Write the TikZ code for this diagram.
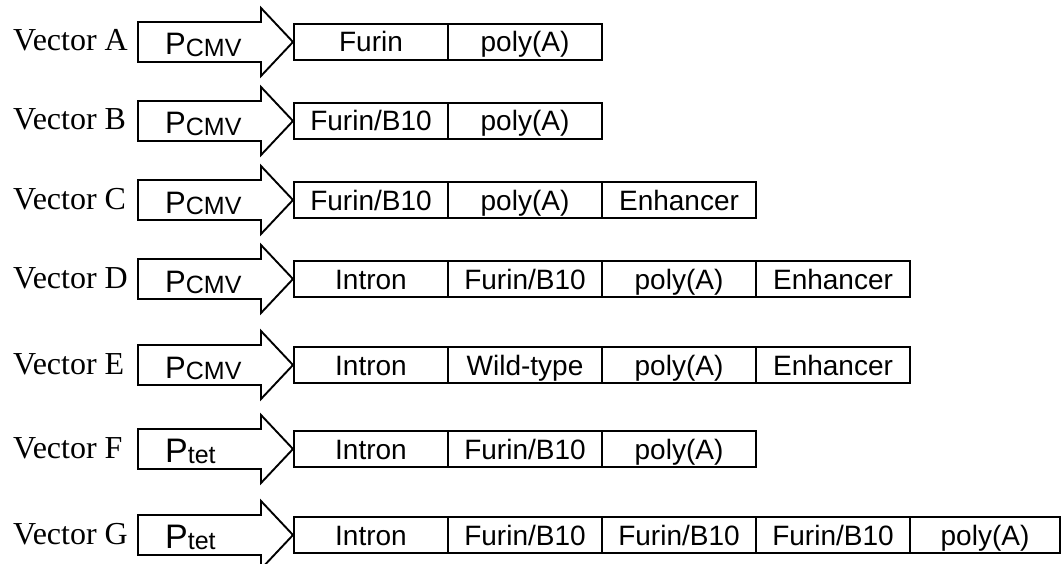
\documentclass[tikz,border=0pt]{standalone}
\usepackage{fontspec}
\setmainfont{Liberation Serif}
\setsansfont{Liberation Sans}
\newcommand\pcmv{{\fontsize{31}{31}\selectfont P}{\fontsize{25}{25}\selectfont\raisebox{-1.5pt}{CMV}}}
\newcommand\ptet{{\fontsize{34}{34}\selectfont P}{\fontsize{25}{25}\selectfont\raisebox{-1.5pt}{tet}}}
\newcommand\vrow[4]{%
  \node[lbl] (lbl#1) at (13,{#2+9}) {#3};
  \draw[prom] (138,{#2-20}) -- (261,{#2-20}) -- (261,{#2-34}) -- (293,#2) -- (261,{#2+34}) -- (261,{#2+20}) -- (138,{#2+20}) -- cycle;
  \node[ptext] (p#1) at (165,{#2+13}) {#4};
  \coordinate (s#1) at (294,#2);
}
\begin{document}
\begin{tikzpicture}[x=1pt,y=-1pt,
  lbl/.style={anchor=base west, inner sep=0, font=\fontsize{32}{32}\selectfont},
  prom/.style={draw, line width=1.9pt, line join=miter, miter limit=10},
  ptext/.style={anchor=base west, inner sep=0, font=\sffamily},
  cell/.style={draw, line width=1.9pt, anchor=west, minimum width=154pt, minimum height=36pt,
    inner sep=0, outer sep=0, text height=22pt, text depth=2pt, font=\sffamily\fontsize{28}{28}\selectfont}
]
\useasboundingbox (0,0) rectangle (1064,564);
% Vector A
\vrow{A}{42}{Vector A}{\pcmv}
\node[cell] (A1) at (sA) {Furin};
\node[cell] (A2) at (A1.east) {poly(A)};
% Vector B
\vrow{B}{121}{Vector B}{\pcmv}
\node[cell] (B1) at (sB) {Furin/B10};
\node[cell] (B2) at (B1.east) {poly(A)};
% Vector C
\vrow{C}{200}{Vector C}{\pcmv}
\node[cell] (C1) at (sC) {Furin/B10};
\node[cell] (C2) at (C1.east) {poly(A)};
\node[cell] (C3) at (C2.east) {Enhancer};
% Vector D
\vrow{D}{279}{Vector D}{\pcmv}
\node[cell] (D1) at (sD) {Intron};
\node[cell] (D2) at (D1.east) {Furin/B10};
\node[cell] (D3) at (D2.east) {poly(A)};
\node[cell] (D4) at (D3.east) {Enhancer};
% Vector E
\vrow{E}{365}{Vector E}{\pcmv}
\node[cell] (E1) at (sE) {Intron};
\node[cell] (E2) at (E1.east) {Wild-type};
\node[cell] (E3) at (E2.east) {poly(A)};
\node[cell] (E4) at (E3.east) {Enhancer};
% Vector F
\vrow{F}{449}{Vector F}{\ptet}
\node[cell] (F1) at (sF) {Intron};
\node[cell] (F2) at (F1.east) {Furin/B10};
\node[cell] (F3) at (F2.east) {poly(A)};
% Vector G
\vrow{G}{535}{Vector G}{\ptet}
\node[cell] (G1) at (sG) {Intron};
\node[cell] (G2) at (G1.east) {Furin/B10};
\node[cell] (G3) at (G2.east) {Furin/B10};
\node[cell] (G4) at (G3.east) {Furin/B10};
\node[cell, minimum width=150pt] (G5) at (G4.east) {poly(A)};
\end{tikzpicture}
\end{document}
